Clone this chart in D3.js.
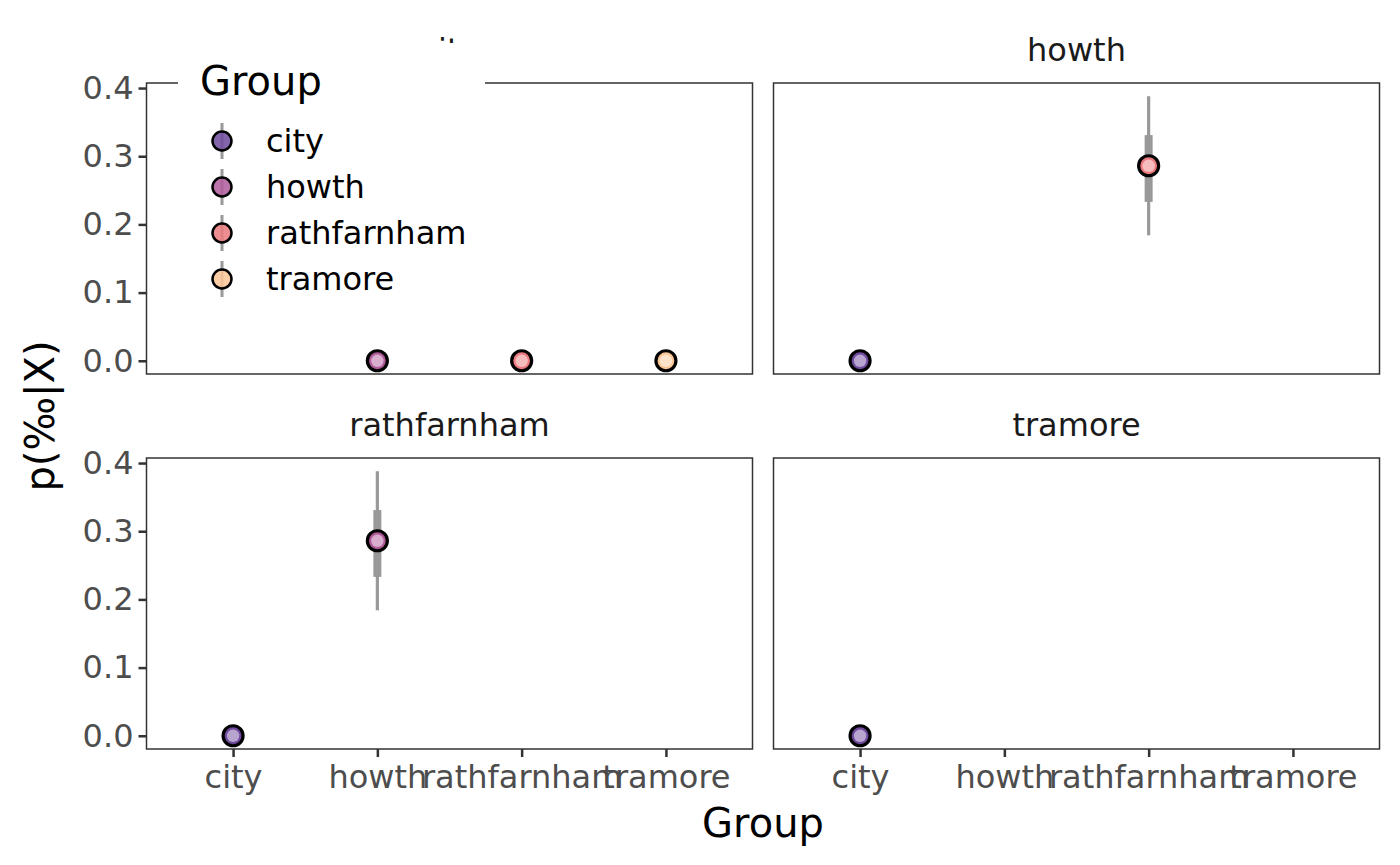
<!DOCTYPE html>
<html>
<head>
<meta charset="utf-8">
<script src="https://cdn.jsdelivr.net/npm/d3@7"></script>
<style>
  html, body { margin: 0; padding: 0; background: #fff; }
  svg { display: block; font-family: "DejaVu Sans", sans-serif; }
</style>
</head>
<body>
<svg id="chart" width="1400" height="865"></svg>
<script>
// ---- data ----
const groups = ["city", "howth", "rathfarnham", "tramore"];
const groupColors = ["#6f4a9e", "#b05a9a", "#ec7a7e", "#fbc695"];
const yTicks = [0.0, 0.1, 0.2, 0.3, 0.4];

// one row per point: facet panel, x category, estimate and intervals
const facet    = ["city", "city", "city", "howth", "howth", "rathfarnham", "rathfarnham", "tramore"];
const xGroup   = ["howth", "rathfarnham", "tramore", "city", "rathfarnham", "city", "howth", "city"];
const estimate = [0, 0, 0, 0, 0.286, 0, 0.286, 0];
const lower66  = [0, 0, 0, 0, 0.233, 0, 0.233, 0];
const upper66  = [0, 0, 0, 0, 0.331, 0, 0.331, 0];
const lower95  = [0, 0, 0, 0, 0.184, 0, 0.184, 0];
const upper95  = [0, 0, 0, 0, 0.388, 0, 0.388, 0];

const xTitle = "Group";
const yTitle = "p(‰|X)";
const legendTitle = "Group";

// ---- layout ----
const svg = d3.select("#chart");
const colX = [[146.5, 752.5], [773.5, 1379.5]];
const rowY = [[83, 374], [458, 749]];
const FS = 32, TFS = 40;

const color = d3.scaleOrdinal().domain(groups).range(groupColors);
const light = g => d3.interpolateRgb(color(g), "#ffffff")(0.5);

const dataMax = d3.max(upper95), dataMin = d3.min(lower95);
const pad = (dataMax - dataMin) * 0.05;
const yDomain = [dataMin - pad, dataMax + pad];

const points = facet.map((f, i) => ({
  facet: f, x: xGroup[i], est: estimate[i],
  l66: lower66[i], u66: upper66[i], l95: lower95[i], u95: upper95[i]
}));

groups.forEach((panel, pi) => {
  const c = pi % 2, r = Math.floor(pi / 2);
  const [x0, x1] = colX[c], [y0, y1] = rowY[r];
  const x = d3.scalePoint().domain(groups).range([x0, x1]).padding(0.6);
  const y = d3.scaleLinear().domain(yDomain).range([y1, y0]);
  const g = svg.append("g");

  // strip title
  g.append("text")
    .attr("x", (x0 + x1) / 2).attr("y", y0 - 22)
    .attr("text-anchor", "middle")
    .attr("font-size", FS).attr("fill", "#1a1a1a")
    .text(panel);

  // panel border
  g.append("rect")
    .attr("x", x0).attr("y", y0)
    .attr("width", x1 - x0).attr("height", y1 - y0)
    .attr("fill", "none").attr("stroke", "#333").attr("stroke-width", 1.5);

  // y axis on left column
  if (c === 0) {
    const ay = g.append("g").attr("transform", `translate(${x0},0)`)
      .call(d3.axisLeft(y).tickValues(yTicks).tickFormat(d3.format(".1f")).tickSize(8).tickPadding(5));
    ay.select(".domain").remove();
    ay.selectAll(".tick line").attr("stroke", "#333").attr("stroke-width", 2.5);
    ay.selectAll(".tick text").attr("font-size", FS).attr("fill", "#4d4d4d")
      .attr("font-family", "DejaVu Sans, sans-serif");
  }
  // x axis on bottom row
  if (r === 1) {
    const ax = g.append("g").attr("transform", `translate(0,${y1})`)
      .call(d3.axisBottom(x).tickSize(8).tickPadding(8));
    ax.select(".domain").remove();
    ax.selectAll(".tick line").attr("stroke", "#333").attr("stroke-width", 2.5);
    ax.selectAll(".tick text").attr("font-size", FS).attr("fill", "#4d4d4d")
      .attr("font-family", "DejaVu Sans, sans-serif");
  }

  const pts = points.filter(p => p.facet === panel);
  // intervals
  g.selectAll(".i95").data(pts).enter().append("line")
    .attr("x1", d => x(d.x)).attr("x2", d => x(d.x))
    .attr("y1", d => y(d.l95)).attr("y2", d => y(d.u95))
    .attr("stroke", "#999").attr("stroke-width", 3.2);
  g.selectAll(".i66").data(pts).enter().append("line")
    .attr("x1", d => x(d.x)).attr("x2", d => x(d.x))
    .attr("y1", d => y(d.l66)).attr("y2", d => y(d.u66))
    .attr("stroke", "#999").attr("stroke-width", 8);
  // points
  g.selectAll(".pt").data(pts).enter().append("circle")
    .attr("cx", d => x(d.x)).attr("cy", d => y(d.est)).attr("r", 10)
    .attr("fill", d => color(d.x)).attr("stroke", "#000").attr("stroke-width", 3.2);
  g.selectAll(".ptin").data(pts).enter().append("circle")
    .attr("cx", d => x(d.x)).attr("cy", d => y(d.est)).attr("r", 6.2)
    .attr("fill", d => light(d.x));
});

// axis titles
svg.append("text")
  .attr("x", (colX[0][0] + colX[1][1]) / 2).attr("y", 837)
  .attr("text-anchor", "middle").attr("font-size", TFS).attr("fill", "#000")
  .text(xTitle);
svg.append("text")
  .attr("transform", `translate(54,${(rowY[0][0] + rowY[1][1]) / 2}) rotate(-90)`)
  .attr("text-anchor", "middle").attr("font-size", TFS).attr("fill", "#000")
  .text(yTitle);

// legend (inside top-left panel)
const lg = svg.append("g");
lg.append("rect")
  .attr("x", 178).attr("y", 43).attr("width", 307).attr("height", 262)
  .attr("fill", "#fff");
lg.append("text")
  .attr("x", 200).attr("y", 95)
  .attr("font-size", TFS).attr("fill", "#000")
  .text(legendTitle);
const keyY = d3.scalePoint().domain(groups).range([141, 279]);
const keys = lg.selectAll(".key").data(groups).enter().append("g")
  .attr("transform", d => `translate(222,${keyY(d)})`);
keys.append("line")
  .attr("x1", 0).attr("x2", 0).attr("y1", -18).attr("y2", 18)
  .attr("stroke", "#999").attr("stroke-width", 3);
keys.append("circle")
  .attr("r", 9.5).attr("fill", d => color(d)).attr("fill-opacity", 0.85)
  .attr("stroke", "#000").attr("stroke-width", 2.5);
keys.append("text")
  .attr("x", 44).attr("dy", "0.35em")
  .attr("font-size", FS).attr("fill", "#000")
  .text(d => d);
</script>
</body>
</html>
